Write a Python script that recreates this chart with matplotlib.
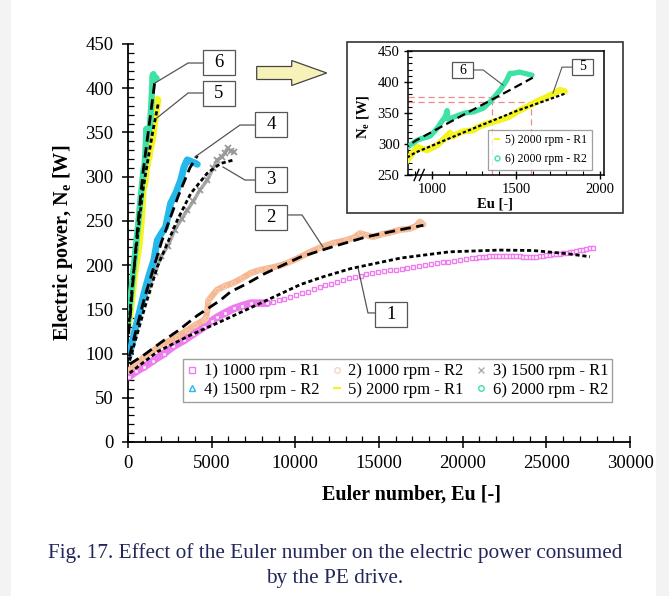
import matplotlib
matplotlib.use('Agg')
import matplotlib.pyplot as plt
import matplotlib.patches as mpatches
from matplotlib.lines import Line2D
from matplotlib.ticker import MultipleLocator

plt.rcParams['font.family'] = ['Liberation Serif', 'DejaVu Serif']
plt.rcParams['mathtext.fontset'] = 'custom'
plt.rcParams['mathtext.rm'] = 'Liberation Serif'
plt.rcParams['mathtext.bf'] = 'Liberation Serif:bold'
plt.rcParams['mathtext.it'] = 'Liberation Serif:italic'

# ---------------- data ----------------
labels = ['1) 1000 rpm - R1', '2) 1000 rpm - R2', '3) 1500 rpm - R1',
          '4) 1500 rpm - R2', '5) 2000 rpm - R1', '6) 2000 rpm - R2']

eu1 = [60, 500, 956, 1500, 2150, 2700, 3350, 3900, 4540, 5000, 5320, 5800, 6330, 6800, 7330, 7800, 8330,
       8650, 9000, 9350, 9700, 10050, 10400, 10750, 11100, 11450, 11800, 12150, 12500, 12850, 13200,
       13550, 13900, 14250, 14600, 14950, 15300, 15650, 16000, 16350, 16700, 17050, 17400, 17750,
       18100, 18450, 18800, 19150, 19500, 19850, 20200, 20550,
       20800, 21000, 21200, 21400, 21600, 21800, 22000, 22200, 22400, 22600, 22800, 23000, 23200,
       23400, 23600, 23800, 24000, 24200, 24400, 24600, 24800, 25000, 25200, 25400, 25600, 25800,
       26000, 26200, 26400, 26600, 26800, 27000, 27200, 27400, 27600, 27800]
w1 = [74, 80, 85, 92, 100, 108, 115, 122, 130, 137, 141, 146, 151, 154, 157, 157, 157,
      158, 160, 162, 164, 166, 168, 170, 172.5, 175, 177, 179, 181, 183, 185,
      186, 188, 189.5, 191, 192, 193, 194, 195, 196, 197, 198, 199, 200,
      201, 202, 203, 204, 205, 206, 207, 208,
      208.5, 209, 209.5, 209.5, 210, 210, 210, 210, 210.5, 210, 210, 210, 210,
      210, 209.5, 209.5, 209, 209, 209.5, 210, 210.5, 211, 211.5, 212, 212.5, 213,
      213.5, 214, 214.5, 215, 216, 217, 217.5, 218, 219, 219]
n1_dense = 17

eu2 = [60, 500, 956, 1500, 2000, 2950, 3500, 4000, 4540, 4650, 4750, 4800, 5320, 5740, 6300, 6800,
       7330, 7800, 8300, 9000, 9600, 10280, 10800, 11500, 12270, 13000, 13500, 13870, 14200, 14640,
       15200, 15700, 16260, 16800, 17200, 17450, 17650]
w2 = [81, 88, 96, 103, 110, 119, 126, 132, 138, 140, 150, 160, 172, 176, 180, 185,
      191, 194, 196, 199, 203, 209, 214, 220, 225, 228, 231, 236, 234, 232,
      235, 237, 240, 241, 244, 249, 246]

eu3 = [60, 400, 800, 1200, 1600, 2000, 2400, 2800, 3200, 3540, 3900, 4300, 4740, 5100, 5340, 5600,
       5800, 5950, 6150, 6340]
w3 = [100, 125, 150, 172, 192, 210, 222, 240, 252, 262, 272, 285, 296, 310, 319, 322,
      327, 332, 329, 328]

eu4 = [100, 400, 700, 956, 1250, 1550, 1750, 2000, 2250, 2550, 2850, 3150, 3350, 3540, 3800, 4040, 4140]
w4 = [100, 125, 148, 168, 188, 206, 228, 236, 243, 270, 281, 296, 311, 319, 317, 315, 314]

eu5 = [0, 100, 200, 360, 500, 660, 800, 911, 970, 1030, 1060, 1107, 1120, 1180, 1244, 1280, 1340,
       1405, 1450, 1476, 1520, 1565, 1620, 1685, 1730, 1760, 1790]
w5 = [132, 145, 160, 187, 205, 225, 255, 295, 290, 298, 305, 318, 312, 320, 322, 328, 334,
      339, 343, 347, 354, 360, 368, 376, 382, 387, 385]

eu6 = [0, 150, 300, 450, 600, 750, 911, 940, 970, 990, 1030, 1065, 1080, 1090, 1095, 1196, 1220,
       1250, 1306, 1345, 1375, 1405, 1445, 1464, 1485, 1520, 1550, 1595]
w6 = [135, 160, 190, 218, 245, 275, 306, 309, 311, 313, 325, 339, 345, 354, 340, 350, 351,
      352, 358, 368, 377, 387, 403, 414, 414, 416, 414, 411]

fit1_eu = [100, 1750, 3750, 5750, 8150, 10300, 11700, 13300, 16300, 19200, 22200, 24200, 26200, 27600]
fit1_w = [78, 102, 121, 138, 159, 178, 187, 196, 208, 215, 217, 216.5, 213, 209.5]
fit2_eu = [100, 1000, 2150, 3000, 4140, 5500, 6140, 7000, 8130, 10280, 12270, 14260, 16260, 17650]
fit2_w = [88, 99, 115, 126, 143, 160, 170, 178, 190, 209, 221, 232, 240, 245]
fit3_eu = [100, 1000, 1750, 2950, 3750, 4740, 5540, 6340]
fit3_w = [92, 152, 198, 251, 281, 304, 315, 319]
fit4_eu = [80, 1000, 2000, 3000, 3700, 4150]
fit4_w = [97, 164, 226, 278, 310, 324]
fit5_eu = [30, 300, 600, 900, 1200, 1500, 1800]
fit5_w = [128, 186, 238, 286, 320, 353, 382]
fit6_eu = [40, 300, 600, 900, 1200, 1450, 1600]
fit6_w = [122, 182, 248, 305, 349, 385, 407]

# red reference lines in the inset
ref_w = [376, 367]
ref_eu = [1357, 1589]

main_xticks = [0, 5000, 10000, 15000, 20000, 25000, 30000]
main_yticks = [0, 50, 100, 150, 200, 250, 300, 350, 400, 450]
ins_xticks = [1000, 1500, 2000]
ins_yticks = [250, 300, 350, 400, 450]

colors = ['#ee7cee', '#f5b893', '#a8a8a8', '#25b8ea', '#f4f420', '#3ee2a4']

W_PX, H_PX = 669, 596

# ---------------- figure ----------------
fig = plt.figure(figsize=(6.69, 5.96), dpi=100)
fig.patch.set_facecolor('white')
for x0, w in [(0, 11 / W_PX), (656 / W_PX, 13 / W_PX)]:
    fig.add_artist(mpatches.Rectangle((x0, 0), w, 1, transform=fig.transFigure,
                                      facecolor='#f3f3f3', edgecolor='none', zorder=0))


def label_box(cx, cy, bw, bh, txt, fs, z):
    fig.add_artist(mpatches.Rectangle(((cx - bw / 2) / W_PX, (H_PX - cy - bh / 2) / H_PX),
                                      bw / W_PX, bh / H_PX, transform=fig.transFigure,
                                      facecolor='white', edgecolor='#555555', lw=0.9, zorder=z))
    fig.text(cx / W_PX, (H_PX - cy) / H_PX, txt, ha='center', va='center',
             fontsize=fs, zorder=z + 0.1)


ax = fig.add_axes([128 / W_PX, 154 / H_PX, 502 / W_PX, 398 / H_PX])
ax.set_xlim(0, 30000)
ax.set_ylim(0, 450)
for s in ['top', 'right']:
    ax.spines[s].set_visible(False)
for s in ['left', 'bottom']:
    ax.spines[s].set_linewidth(1.3)
ax.set_xticks(main_xticks)
ax.set_yticks(main_yticks)
ax.xaxis.set_minor_locator(MultipleLocator(1000))
ax.yaxis.set_minor_locator(MultipleLocator(10))
ax.tick_params(which='major', direction='inout', length=9, width=1.1, labelsize=13.5, pad=5)
ax.tick_params(which='minor', direction='in', length=4, width=0.9)
ax.tick_params(axis='y', which='major', pad=6)

# data series
ax.plot(eu1[:n1_dense], w1[:n1_dense], '-', color=colors[0], lw=5.5, solid_capstyle='round', zorder=3)
ax.plot(eu1, w1, 's', mfc='white', mec=colors[0], ms=3.4, mew=1.0, zorder=3)
ax.plot(eu2, w2, '-', color=colors[1], lw=4.5, solid_capstyle='round', zorder=3)
ax.plot(eu2, w2, 'o', mfc='none', mec='#f7cbb0', ms=3, mew=0.8, zorder=3)
ax.plot(eu3, w3, '-', color=colors[2], lw=2.5, zorder=3)
ax.plot(eu3, w3, 'x', color='#999999', ms=5, mew=1.3, zorder=3)
ax.plot(eu4, w4, '-', color=colors[3], lw=5, solid_capstyle='round', zorder=3)
ax.plot(eu5, w5, '-', color=colors[4], lw=5.5, solid_capstyle='butt', zorder=3)
ax.plot(eu6, w6, '-', color=colors[5], lw=4.5, solid_capstyle='round', zorder=3)
ax.plot(eu6[-1:], w6[-1:], 'o', color=colors[5], ms=5, zorder=3)

dot = (0, (1.5, 1.0))
dash = (0, (3.8, 2.0))
ax.plot(fit1_eu, fit1_w, color='black', lw=2, ls=dot, zorder=5)
ax.plot(fit2_eu, fit2_w, color='black', lw=2, ls=dash, zorder=5)
ax.plot(fit3_eu, fit3_w, color='black', lw=2, ls=dot, zorder=5)
ax.plot(fit4_eu, fit4_w, color='black', lw=2, ls=dash, zorder=5)
ax.plot(fit5_eu, fit5_w, color='black', lw=2, ls=dot, zorder=5)
ax.plot(fit6_eu, fit6_w, color='black', lw=2, ls=dash, zorder=5)

# leader lines (data coords) and label boxes (pixel layout)
leaders = [[(4480, 428.5), (3590, 428.5), (1610, 405.9)],
           [(4480, 394.6), (3590, 394.6), (1730, 366.4)],
           [(7590, 358.4), (6690, 358.4), (4000, 322.3)],
           [(7590, 296.2), (6990, 296.2), (5680, 310.9)],
           [(9560, 256.7), (10400, 256.7), (11650, 220.5)],
           [(14760, 145.9), (14340, 145.9), (13750, 196.7)]]
for path in leaders:
    xs, ys = zip(*path)
    ax.plot(xs, ys, color='#555555', lw=0.9, zorder=6)
for txt, cx, cy in [('6', 219, 62.5), ('5', 219, 93.5), ('4', 271, 124.5),
                    ('3', 271, 179.5), ('2', 271, 217.5), ('1', 391, 314.5)]:
    label_box(cx, cy, 32, 25, txt, 13.5, 1.5)

# block arrow
fig.add_artist(mpatches.FancyArrow(256.7 / W_PX, (H_PX - 73) / H_PX, 70 / W_PX, 0,
                                   width=13 / H_PX, head_width=25 / H_PX, head_length=35 / W_PX,
                                   length_includes_head=True, transform=fig.transFigure,
                                   facecolor='#f7f2b8', edgecolor='#444444', lw=0.9, zorder=1.5))

# legend (row-wise order 1 2 3 / 4 5 6)
h = [Line2D([], [], ls='none', marker='s', mfc='none', mec=colors[0], ms=4),
     Line2D([], [], ls='none', marker='o', mfc='none', mec='#f3d6c6', ms=4),
     Line2D([], [], ls='none', marker='x', color='#b0b0b0', ms=4),
     Line2D([], [], ls='none', marker='^', mfc='none', mec=colors[3], ms=4),
     Line2D([], [], ls='none', marker='_', color=colors[4], ms=6, mew=1.5),
     Line2D([], [], ls='none', marker='o', mfc='none', mec=colors[5], ms=4)]
order = [0, 3, 1, 4, 2, 5]
leg = ax.legend([h[i] for i in order], [labels[i] for i in order], ncol=3, loc='lower left',
                bbox_to_anchor=(0.1096, 0.1005, 0.855, 0.073), mode='expand',
                fontsize=12, frameon=True, fancybox=False, edgecolor='#888888',
                handlelength=0.6, handletextpad=0.4, columnspacing=0.6,
                labelspacing=0.15, borderpad=0.25, borderaxespad=0)
leg.get_frame().set_linewidth(1.0)
leg.set_zorder(8)

fig.text(411.5 / W_PX, (H_PX - 495) / H_PX, 'Euler number, Eu [-]', ha='center', va='center',
         fontsize=14.5, fontweight='bold')
fig.text(63 / W_PX, (H_PX - 243) / H_PX, r'Electric power, N$_\mathbf{e}$ [W]', ha='center', va='center',
         rotation=90, fontsize=14.5, fontweight='bold')

# ---------------- inset ----------------
fig.add_artist(mpatches.Rectangle((347 / W_PX, (H_PX - 213) / H_PX), 276 / W_PX, 171 / H_PX,
                                  transform=fig.transFigure, facecolor='white',
                                  edgecolor='#333333', lw=1.2, zorder=1))
ins = fig.add_axes([408 / W_PX, (H_PX - 175) / H_PX, 196 / W_PX, 124 / H_PX])
ins.set_zorder(2)
ins.set_xlim(857, 2024)
ins.set_ylim(250, 450)
for s in ins.spines.values():
    s.set_linewidth(1.1)
ins.set_xticks(ins_xticks)
ins.set_yticks(ins_yticks)
ins.xaxis.set_minor_locator(MultipleLocator(100))
ins.yaxis.set_minor_locator(MultipleLocator(10))
ins.tick_params(which='major', direction='inout', length=6, width=1.0, labelsize=10.5, pad=3)
ins.tick_params(which='minor', direction='in', length=3, width=0.8)

for wv, ev in zip(ref_w, ref_eu):
    ins.plot([857, ev + 50], [wv, wv], color='#f08a8a', lw=0.9, ls=(0, (5, 3)), zorder=2)
    ins.plot([ev, ev], [250, wv], color='#f08a8a', lw=0.9, ls=(0, (5, 3)), zorder=2)

ins.plot(eu5, w5, '-', color=colors[4], lw=4.5, solid_capstyle='round', zorder=3)
ins.plot(eu6, w6, '-', color=colors[5], lw=3.8, solid_capstyle='round', zorder=3)
ins.plot(fit5_eu, fit5_w, color='black', lw=1.6, ls=dot, zorder=5)
ins.plot(fit6_eu, fit6_w, color='black', lw=1.6, ls=dash, zorder=5)

for path in [[(1244, 419.4), (1304, 419.4), (1423, 395)],
             [(1833, 424), (1774, 424), (1720, 382)]]:
    xs, ys = zip(*path)
    ins.plot(xs, ys, color='#555555', lw=0.8, zorder=6)
for txt, cx, cy in [('6', 462.5, 70), ('5', 582.5, 66.5)]:
    label_box(cx, cy, 21, 16, txt, 10, 3)

# axis break marks
for xf in (0.031, 0.058):
    ins.plot([xf, xf + 0.025], [-0.045, 0.045], transform=ins.transAxes, color='black',
             lw=1.0, clip_on=False, zorder=6)

h2 = [Line2D([], [], ls='none', marker='_', color=colors[4], ms=5, mew=1.5),
      Line2D([], [], ls='none', marker='o', mfc='none', mec=colors[5], ms=3.5)]
leg2 = ins.legend(h2, labels[4:], loc='lower left', bbox_to_anchor=(0.41, 0.04),
                  fontsize=8.5, frameon=True, fancybox=False, edgecolor='#888888',
                  handlelength=0.6, handletextpad=0.4, labelspacing=0.6,
                  borderpad=0.4, borderaxespad=0)
leg2.get_frame().set_linewidth(0.9)

fig.text(363 / W_PX, (H_PX - 117) / H_PX, r'N$_\mathbf{e}$ [W]', ha='center', va='center',
         rotation=90, fontsize=10.5, fontweight='bold', zorder=4)
fig.text(495 / W_PX, (H_PX - 204) / H_PX, 'Eu [-]', ha='center', va='center',
         fontsize=10.5, fontweight='bold', zorder=4)

# caption
cap_color = '#22265a'
fig.text(335 / W_PX, (H_PX - 553) / H_PX,
         'Fig. 17. Effect of the Euler number on the electric power consumed',
         ha='center', va='center', fontsize=15.3, color=cap_color)
fig.text(335 / W_PX, (H_PX - 578) / H_PX, 'by the PE drive.', ha='center', va='center',
         fontsize=15.3, color=cap_color)

fig.savefig('out.png', dpi=100)
